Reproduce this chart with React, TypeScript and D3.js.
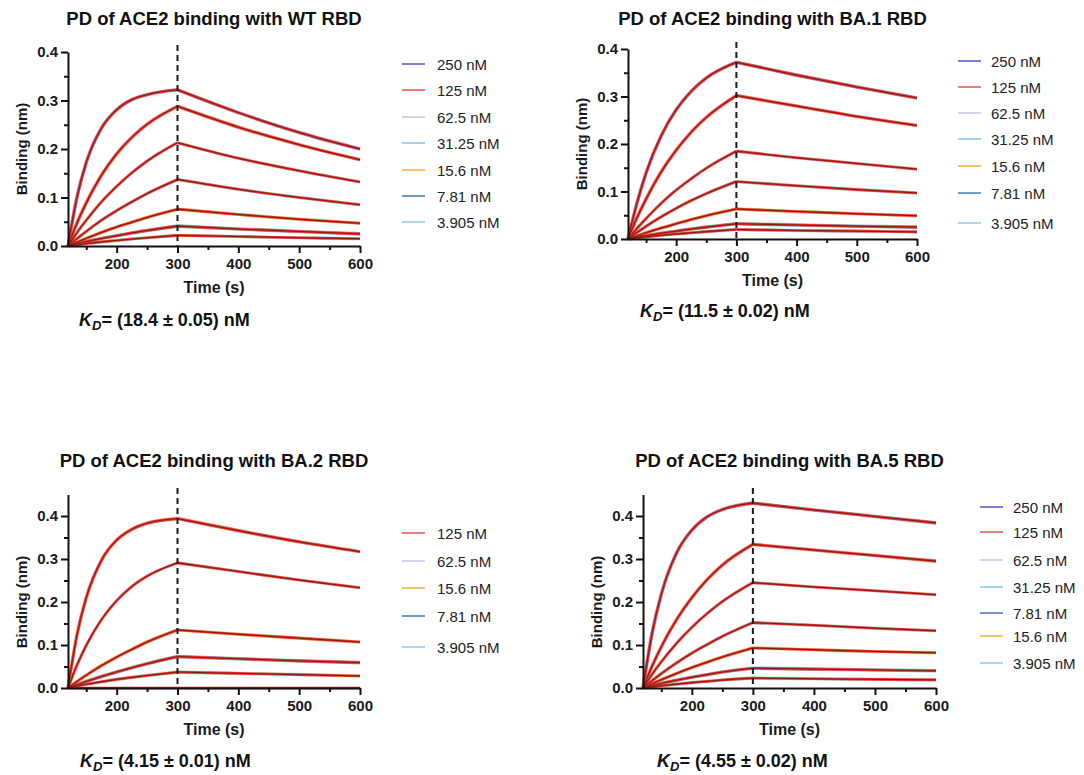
import React, { useRef, useEffect } from "react";
import * as d3 from "d3";

// shared time grid (s) for association and dissociation phases
const assocTimes = [120, 135, 150, 175, 200, 225, 250, 300];
const dissocTimes = [300, 400, 500, 600];

const concColors: Record<string, string> = {
  "250 nM": "#7c7fd9",
  "125 nM": "#e97f7c",
  "62.5 nM": "#d5d1ee",
  "31.25 nM": "#a3d4ec",
  "15.6 nM": "#f2c470",
  "7.81 nM": "#6f9cc6",
  "3.905 nM": "#a9d8ee",
};

// WT RBD
const wtSeries = ["250 nM", "125 nM", "62.5 nM", "31.25 nM", "15.6 nM", "7.81 nM", "3.905 nM"];
const wtLegend = ["250 nM", "125 nM", "62.5 nM", "31.25 nM", "15.6 nM", "7.81 nM", "3.905 nM"];
const wtAssoc = [
  [0, 0.102, 0.172, 0.243, 0.281, 0.302, 0.312, 0.322],
  [0, 0.048, 0.089, 0.146, 0.19, 0.224, 0.251, 0.288],
  [0, 0.028, 0.053, 0.091, 0.123, 0.151, 0.175, 0.213],
  [0, 0.0155, 0.03, 0.053, 0.073, 0.091, 0.108, 0.137],
  [0, 0.008, 0.0157, 0.028, 0.039, 0.049, 0.059, 0.076],
  [0, 0.005, 0.009, 0.0155, 0.021, 0.027, 0.032, 0.041],
  [0, 0.0025, 0.005, 0.0085, 0.0115, 0.0143, 0.017, 0.022],
];
const wtDissoc = [
  [0.322, 0.275, 0.234, 0.2],
  [0.288, 0.245, 0.209, 0.178],
  [0.213, 0.181, 0.155, 0.132],
  [0.137, 0.117, 0.1, 0.085],
  [0.076, 0.065, 0.055, 0.047],
  [0.041, 0.035, 0.03, 0.025],
  [0.022, 0.0195, 0.017, 0.015],
];

// BA.1 RBD
const ba1Series = ["250 nM", "125 nM", "62.5 nM", "31.25 nM", "15.6 nM", "7.81 nM", "3.905 nM"];
const ba1Legend = ["250 nM", "125 nM", "62.5 nM", "31.25 nM", "15.6 nM", "7.81 nM", "3.905 nM"];
const ba1Assoc = [
  [0, 0.076, 0.139, 0.217, 0.272, 0.311, 0.339, 0.372],
  [0, 0.045, 0.084, 0.141, 0.187, 0.225, 0.256, 0.302],
  [0, 0.0225, 0.043, 0.075, 0.103, 0.127, 0.149, 0.185],
  [0, 0.0137, 0.0267, 0.0465, 0.0647, 0.081, 0.0956, 0.121],
  [0, 0.0066, 0.013, 0.023, 0.032, 0.041, 0.049, 0.063],
  [0, 0.004, 0.007, 0.012, 0.0165, 0.021, 0.025, 0.032],
  [0, 0.0025, 0.0045, 0.0078, 0.0105, 0.013, 0.0155, 0.02],
];
const ba1Dissoc = [
  [0.372, 0.345, 0.32, 0.297],
  [0.302, 0.28, 0.258, 0.239],
  [0.185, 0.171, 0.159, 0.147],
  [0.121, 0.112, 0.104, 0.097],
  [0.063, 0.058, 0.053, 0.049],
  [0.032, 0.0295, 0.027, 0.025],
  [0.02, 0.018, 0.0165, 0.015],
];

// BA.2 RBD (last fit is the flat baseline)
const ba2Series = ["125 nM", "62.5 nM", "15.6 nM", "7.81 nM", "3.905 nM", "baseline"];
const ba2Legend = ["125 nM", "62.5 nM", "15.6 nM", "7.81 nM", "3.905 nM"];
const ba2Assoc = [
  [0, 0.125, 0.21, 0.297, 0.344, 0.369, 0.383, 0.394],
  [0, 0.054, 0.099, 0.159, 0.203, 0.236, 0.26, 0.291],
  [0, 0.0153, 0.0297, 0.052, 0.072, 0.09, 0.107, 0.135],
  [0, 0.0077, 0.015, 0.0266, 0.0373, 0.0473, 0.0565, 0.073],
  [0, 0.0045, 0.0085, 0.0145, 0.02, 0.0247, 0.029, 0.037],
  [0, 0, 0, 0, 0, 0, 0, 0],
];
const ba2Dissoc = [
  [0.394, 0.366, 0.34, 0.317],
  [0.291, 0.271, 0.251, 0.233],
  [0.135, 0.125, 0.116, 0.107],
  [0.073, 0.068, 0.063, 0.059],
  [0.037, 0.034, 0.031, 0.028],
  [0, 0, 0, 0],
];

// BA.5 RBD
const ba5Series = ["250 nM", "125 nM", "62.5 nM", "31.25 nM", "15.6 nM", "7.81 nM", "3.905 nM"];
const ba5Legend = ["250 nM", "125 nM", "62.5 nM", "31.25 nM", "7.81 nM", "15.6 nM", "3.905 nM"];
const ba5Assoc = [
  [0, 0.128, 0.218, 0.314, 0.367, 0.398, 0.415, 0.43],
  [0, 0.051, 0.096, 0.159, 0.21, 0.252, 0.286, 0.334],
  [0, 0.032, 0.061, 0.104, 0.141, 0.173, 0.201, 0.245],
  [0, 0.0172, 0.0335, 0.0583, 0.081, 0.101, 0.12, 0.152],
  [0, 0.0098, 0.0192, 0.0339, 0.0475, 0.06, 0.072, 0.093],
  [0, 0.0055, 0.0105, 0.018, 0.025, 0.031, 0.037, 0.046],
  [0, 0.0028, 0.0053, 0.009, 0.0125, 0.0155, 0.0185, 0.023],
];
const ba5Dissoc = [
  [0.43, 0.414, 0.399, 0.384],
  [0.334, 0.321, 0.308, 0.295],
  [0.245, 0.235, 0.226, 0.217],
  [0.152, 0.146, 0.139, 0.133],
  [0.093, 0.089, 0.085, 0.082],
  [0.046, 0.044, 0.042, 0.04],
  [0.023, 0.0215, 0.02, 0.019],
];

const xMajor = [200, 300, 400, 500, 600];
const xMinor = [150, 250, 350, 450, 550];
const yMajor = [0, 0.1, 0.2, 0.3, 0.4];
const yMinor = [0.05, 0.15, 0.25, 0.35];

const FONT = "'Liberation Sans', Arial, Helvetica, sans-serif";

const panels = [
  {
    title: "PD of ACE2 binding with WT RBD", kd: "= (18.4 ± 0.05) nM",
    series: wtSeries, legend: wtLegend, assoc: wtAssoc, dissoc: wtDissoc,
    left: 68, right: 360, y0: 246, y04: 52, yMax: 0.4, dashTop: 45, titleY: 25,
    lineX: 402, textX: 437, legendY: [64, 90, 117, 143, 170, 196, 222], kdX: 79, kdY: 326,
  },
  {
    title: "PD of ACE2 binding with BA.1 RBD", kd: "= (11.5 ± 0.02) nM",
    series: ba1Series, legend: ba1Legend, assoc: ba1Assoc, dissoc: ba1Dissoc,
    left: 628, right: 917, y0: 239, y04: 49, yMax: 0.4, dashTop: 42, titleY: 25,
    lineX: 958, textX: 991, legendY: [61, 87, 113, 139, 166, 193, 223], kdX: 640, kdY: 317,
  },
  {
    title: "PD of ACE2 binding with BA.2 RBD", kd: "= (4.15 ± 0.01) nM",
    series: ba2Series, legend: ba2Legend, assoc: ba2Assoc, dissoc: ba2Dissoc,
    left: 68, right: 360, y0: 688, y04: 516, yMax: 0.45, dashTop: 488, titleY: 467,
    lineX: 402, textX: 437, legendY: [533, 561, 588, 616, 647], kdX: 80, kdY: 767,
  },
  {
    title: "PD of ACE2 binding with BA.5 RBD", kd: "= (4.55 ± 0.02) nM",
    series: ba5Series, legend: ba5Legend, assoc: ba5Assoc, dissoc: ba5Dissoc,
    left: 643, right: 936, y0: 688, y04: 516, yMax: 0.45, dashTop: 488, titleY: 467,
    lineX: 980, textX: 1013, legendY: [507, 532, 560, 587, 613, 636, 663], kdX: 657, kdY: 767,
  },
];

const App = () => {
  const svgRef = useRef<SVGSVGElement>(null);

  useEffect(() => {
    const svg = d3.select(svgRef.current);
    svg.selectAll("*").remove();

    panels.forEach(p => {
      const g = svg.append("g");
      const pxPer = (p.y0 - p.y04) / 0.4;
      const x = d3.scaleLinear().domain([120, 600]).range([p.left, p.right]);
      const y = d3.scaleLinear().domain([0, p.yMax]).range([p.y0, p.y0 - p.yMax * pxPer]);
      const midX = (p.left + p.right) / 2;

      const line = d3.line<[number, number]>()
        .x(d => x(d[0]))
        .y(d => y(d[1]))
        .curve(d3.curveMonotoneX);

      const segs = p.series.map((name, i) => ({
        name,
        color: concColors[name] || "#e83a24",
        a: assocTimes.map((t, j) => [t, p.assoc[i][j]] as [number, number]),
        d: dissocTimes.map((t, j) => [t, p.dissoc[i][j]] as [number, number]),
      }));

      // raw traces (coloured halo)
      segs.forEach(s => {
        if (s.name === "baseline") return;
        [s.a, s.d].forEach(pts => {
          g.append("path").attr("d", line(pts)).attr("fill", "none")
            .attr("stroke", s.color).attr("stroke-width", 3.6).attr("opacity", 0.75);
        });
      });
      // fitted curves
      segs.forEach(s => {
        [s.a, s.d].forEach(pts => {
          g.append("path").attr("d", line(pts)).attr("fill", "none")
            .attr("stroke", "#ef3420").attr("stroke-width", 2.6);
        });
      });
      segs.forEach(s => {
        [s.a, s.d].forEach(pts => {
          g.append("path").attr("d", line(pts)).attr("fill", "none")
            .attr("stroke", "#7a1d1a").attr("stroke-width", 1);
        });
      });

      // dashed line at end of association
      g.append("line")
        .attr("x1", x(300)).attr("x2", x(300))
        .attr("y1", p.dashTop).attr("y2", p.y0)
        .attr("stroke", "#1a1a1a").attr("stroke-width", 2)
        .attr("stroke-dasharray", "6,4");

      // axes
      const xAxis = g.append("g").attr("transform", `translate(0,${p.y0})`)
        .call(d3.axisBottom(x).tickValues(xMajor).tickSize(7).tickSizeOuter(0).tickPadding(5));
      g.append("g").attr("transform", `translate(0,${p.y0})`)
        .call(d3.axisBottom(x).tickValues(xMinor).tickSize(4).tickSizeOuter(0).tickFormat(() => ""))
        .select(".domain").remove();
      const yAxis = g.append("g").attr("transform", `translate(${p.left},0)`)
        .call(d3.axisLeft(y).tickValues(yMajor).tickSize(7).tickSizeOuter(0).tickPadding(3).tickFormat(d3.format(".1f")));
      g.append("g").attr("transform", `translate(${p.left},0)`)
        .call(d3.axisLeft(y).tickValues(yMinor).tickSize(4).tickSizeOuter(0).tickFormat(() => ""))
        .select(".domain").remove();

      g.selectAll(".domain, .tick line").attr("stroke", "#111").attr("stroke-width", 2);
      [xAxis, yAxis].forEach(ax => ax.selectAll("text")
        .attr("fill", "#1a1a1a")
        .style("font-family", FONT)
        .style("font-size", "15px")
        .style("font-weight", "bold"));

      // axis titles
      g.append("text").attr("x", midX).attr("y", p.y0 + 47)
        .attr("text-anchor", "middle").attr("fill", "#1a1a1a")
        .style("font-family", FONT).style("font-size", "16px").style("font-weight", "bold")
        .text("Time (s)");
      g.append("text")
        .attr("transform", `translate(${p.left - 47},${(p.y0 + p.y04) / 2}) rotate(-90)`)
        .attr("text-anchor", "middle").attr("dominant-baseline", "central").attr("fill", "#1a1a1a")
        .style("font-family", FONT).style("font-size", "15px").style("font-weight", "bold")
        .text("Binding (nm)");

      // title
      g.append("text").attr("x", midX).attr("y", p.titleY)
        .attr("text-anchor", "middle").attr("fill", "#111")
        .style("font-family", FONT).style("font-size", "18.5px").style("font-weight", "bold")
        .text(p.title);

      // legend
      p.legend.forEach((name, i) => {
        const ly = p.legendY[i];
        g.append("line").attr("x1", p.lineX).attr("x2", p.lineX + 23)
          .attr("y1", ly).attr("y2", ly)
          .attr("stroke", concColors[name]).attr("stroke-width", 2);
        g.append("text").attr("x", p.textX).attr("y", ly)
          .attr("dominant-baseline", "central").attr("fill", "#222")
          .style("font-family", FONT).style("font-size", "15px")
          .text(name);
      });

      // KD annotation
      const kd = g.append("text").attr("x", p.kdX).attr("y", p.kdY).attr("fill", "#111")
        .style("font-family", FONT).style("font-size", "18px").style("font-weight", "bold");
      kd.append("tspan").style("font-style", "italic").text("K");
      kd.append("tspan").style("font-style", "italic").style("font-size", "13px").attr("dy", 4).text("D");
      kd.append("tspan").attr("dy", -4).text(p.kd);
    });
  }, []);

  return (
    <div style={{ position: "absolute", left: 0, top: 0, width: 1084, height: 775, background: "#fff" }}>
      <svg ref={svgRef} width={1084} height={775} style={{ display: "block" }} />
    </div>
  );
};

export default App;
